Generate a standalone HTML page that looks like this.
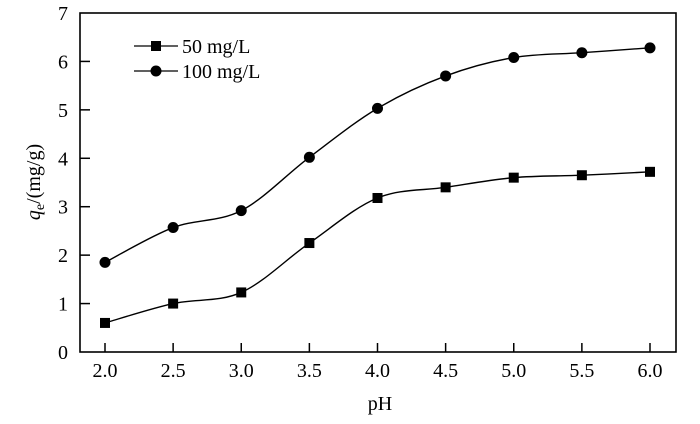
<!DOCTYPE html>
<html><head><meta charset="utf-8"><style>
body{margin:0;background:#fff;}
svg text{font-family:"Liberation Serif",serif;fill:#000;}
</style></head><body>
<svg id="chart" width="700" height="419" viewBox="0 0 700 419" xmlns="http://www.w3.org/2000/svg">
<rect x="80" y="13" width="596" height="339" fill="none" stroke="#000" stroke-width="1.6"/>
<g id="axes"></g>
<g id="series"></g>
<text x="380" y="410" font-size="20" text-anchor="middle">pH</text>
<text transform="translate(40,182) rotate(-90)" font-size="20" text-anchor="middle"><tspan font-style="italic">q</tspan><tspan font-size="14" dy="4">e</tspan><tspan dy="-4">/(mg/g)</tspan></text>
<g>
<line x1="134" y1="46" x2="178" y2="46" stroke="#000" stroke-width="1.3"/>
<rect x="151" y="41" width="10" height="10" fill="#000"/>
<text x="182" y="53" font-size="20">50 mg/L</text>
<line x1="134" y1="71" x2="178" y2="71" stroke="#000" stroke-width="1.3"/>
<circle cx="156" cy="71" r="5.5" fill="#000"/>
<text x="182" y="78" font-size="20">100 mg/L</text>
</g>
</svg>
<script>
const phValues=[2.0,2.5,3.0,3.5,4.0,4.5,5.0,5.5,6.0];
const series50=[0.6,1.0,1.23,2.25,3.18,3.4,3.6,3.65,3.72];
const series100=[1.85,2.57,2.92,4.02,5.03,5.7,6.08,6.18,6.28];
const xTicks=["2.0","2.5","3.0","3.5","4.0","4.5","5.0","5.5","6.0"];
const yTicks=[0,1,2,3,4,5,6,7];
const NS="http://www.w3.org/2000/svg";
function xs(v){return 105+(v-2)*136.25;}
function ys(v){return 352-v*48.43;}
const axes=document.getElementById('axes');
function mk(t,a,p){const e=document.createElementNS(NS,t);for(const k in a)e.setAttribute(k,a[k]);p.appendChild(e);return e;}
xTicks.forEach(t=>{const x=xs(parseFloat(t));
 const l=mk('line',{x1:x,y1:352,x2:x,y2:343,stroke:'#000','stroke-width':1.5},axes);
 
 
 const tx=mk('text',{x:x,y:377,'font-size':20,'text-anchor':'middle'},axes);tx.textContent=t;
 
 
});
yTicks.forEach(v=>{const y=ys(v);
 if(v>0&&v<7){const l=mk('line',{x1:80,y1:y,x2:90,y2:y,stroke:'#000','stroke-width':1.5},axes);
 
 }
 const tx=mk('text',{x:68,y:y+7,'font-size':20,'text-anchor':'end'},axes);tx.textContent=v;
 
 
});
function smooth(pts){let d=`M${pts[0][0]},${pts[0][1]}`;
 for(let i=0;i<pts.length-1;i++){const p0=pts[Math.max(0,i-1)],p1=pts[i],p2=pts[i+1],p3=pts[Math.min(pts.length-1,i+2)];
 const c1=[p1[0]+(p2[0]-p0[0])/6,p1[1]+(p2[1]-p0[1])/6],c2=[p2[0]-(p3[0]-p1[0])/6,p2[1]-(p3[1]-p1[1])/6];
 d+=` C${c1[0]},${c1[1]} ${c2[0]},${c2[1]} ${p2[0]},${p2[1]}`;}return d;}
const sg=document.getElementById('series');
[[series50,'square','50'],[series100,'circle','100']].forEach(([vals,shape,name])=>{
 const pts=vals.map((v,i)=>[xs(phValues[i]),ys(v)]);
 const p=mk('path',{d:smooth(pts),fill:'none',stroke:'#000','stroke-width':1.4},sg);
 
 
 pts.forEach(([x,y])=>{let m;
  if(shape==='square')m=mk('rect',{x:x-5,y:y-5,width:10,height:10,fill:'#000'},sg);
  else m=mk('circle',{cx:x,cy:y,r:5.5,fill:'#000'},sg);
  
  
 });
});
</script>
</body></html>
